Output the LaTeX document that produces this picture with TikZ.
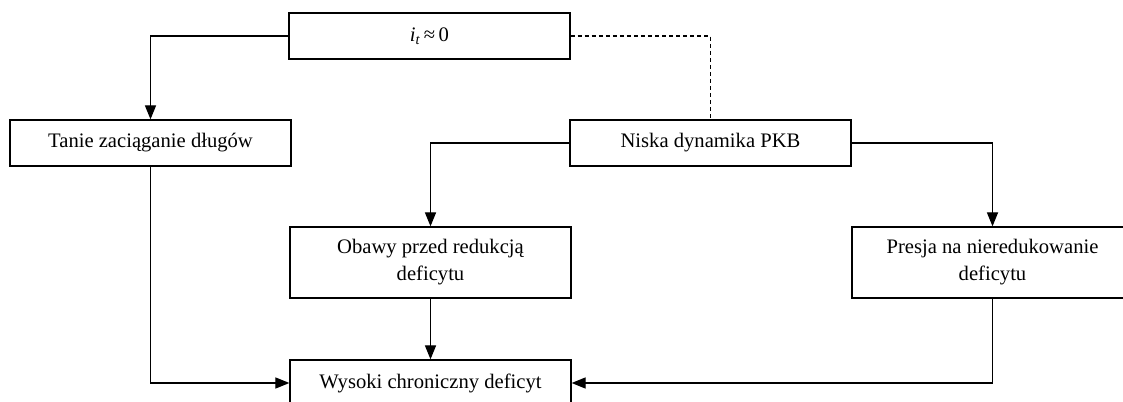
\documentclass[tikz,border=0pt]{standalone}
\usepackage{fontspec}
\setmainfont{Liberation Serif}
\usetikzlibrary{arrows.meta}
\begin{document}
\begin{tikzpicture}[x=0.03cm,y=-0.03cm,
  box/.style={draw,line width=1.1pt,rectangle,minimum width=8.43cm,minimum height=1.38cm,
    inner sep=0pt,align=center,font=\fontsize{17.6}{23}\selectfont},
  tall/.style={minimum height=2.13cm},
  conn/.style={line width=1.1pt},
  arr/.style={conn,-{Triangle[length=12pt,width=9.5pt]}}]
\useasboundingbox (0,0) rectangle (1123,402);
\begin{scope}
\clip (0,0) rectangle (1123,402);
\node[box] (it) at (429.5,36) {\textit{i}\textsubscript{\textit{t}}\,≈\,0};
\node[box] (tanie) at (150.5,143) {Tanie zaciąganie długów};
\node[box] (niska) at (710.5,143) {Niska dynamika PKB};
\node[box,tall] (obawy) at (430.5,262.5) {Obawy przed redukcją\\deficytu};
\node[box,tall] (presja) at (992.5,262.5) {Presja na nieredukowanie\\deficytu};
\node[box] (wysoki) at (430.5,383) {Wysoki chroniczny deficyt};
\draw[arr] (it.west) -| (tanie.north);
\draw[conn,dash pattern=on 3.5pt off 2.5pt] (it.east) -| (niska.north);
\draw[arr] (niska.west) -| (obawy.north);
\draw[arr] (niska.east) -| (presja.north);
\draw[arr] (tanie.south) |- (wysoki.west);
\draw[arr] (obawy.south) -- (wysoki.north);
\draw[arr] (presja.south) |- (wysoki.east);
\end{scope}
\end{tikzpicture}
\end{document}
